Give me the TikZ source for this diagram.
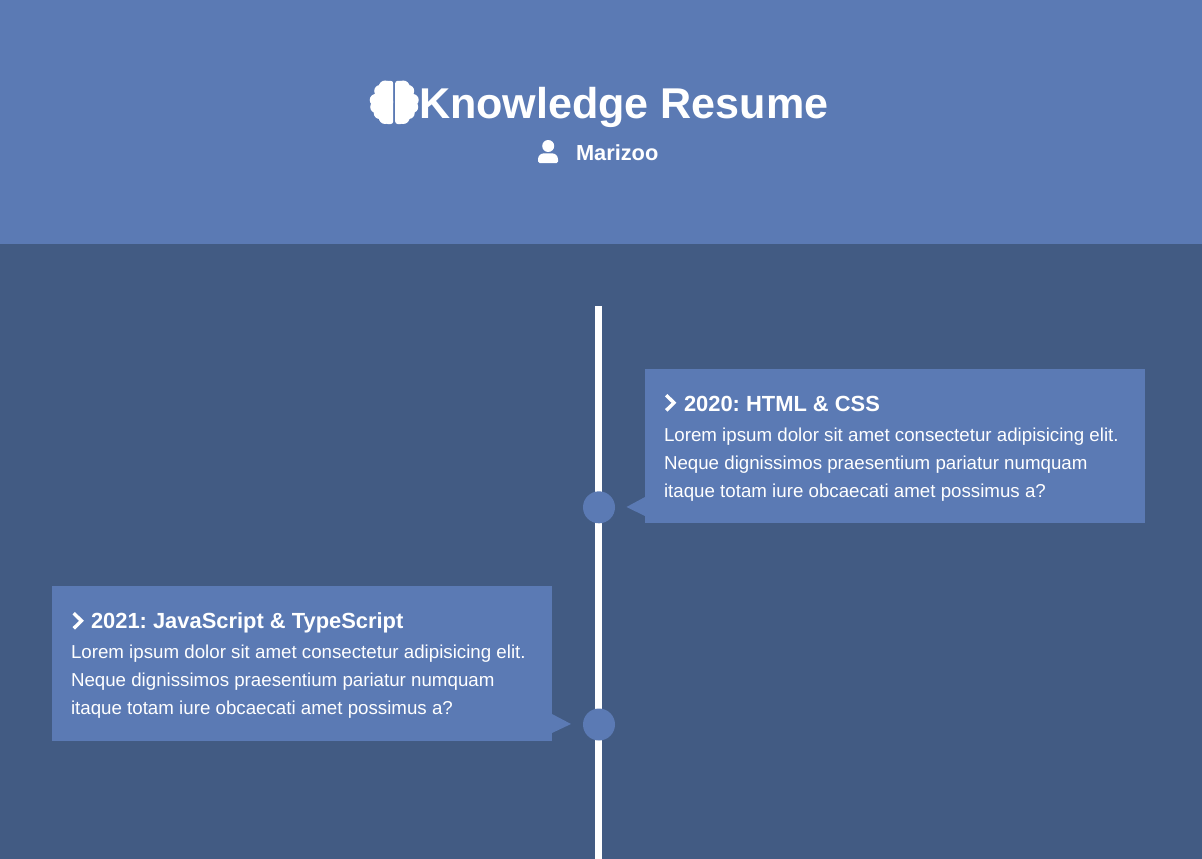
\documentclass[tikz,border=0pt]{standalone}
\usepackage{fontspec}
\setmainfont{Liberation Sans}
\usetikzlibrary{positioning}
\definecolor{myhead}{RGB}{91,122,180}
\definecolor{myback}{RGB}{66,91,131}
\frenchspacing
\begin{document}
\begin{tikzpicture}[x=1pt,y=-1pt,
    every node/.style={text=white,inner sep=0pt,outer sep=0pt,anchor=base west},
    boxnode/.style={fill=myhead,draw=none,anchor=north west,minimum width=500pt},
    dotnode/.style={circle,fill=myhead,anchor=center,minimum size=32pt},
    titlenode/.style={font=\fontsize{43.1}{43.1}\selectfont\bfseries},
    authornode/.style={font=\fontsize{21.8}{21.8}\selectfont\bfseries},
    headnode/.style={font=\fontsize{21.9}{21.9}\selectfont\bfseries},
    textnode/.style={font=\fontsize{18.72}{18.72}\selectfont},
    chevron/.style={draw=white,line width=3.4pt,miter limit=10}
  ]
  \useasboundingbox (0,0) rectangle (1202,859);
  \fill[myback] (0,0) rectangle (1202,859);
  \fill[myhead] (0,0) rectangle (1202,244);

  % the header
  \node[titlenode] (title) at (419,118) {Knowledge Resume};
  \node[authornode] (author) at (576,160) {Marizoo};

  % the brain
  \foreach \dx/\cy/\r in {8/87/6.5,13/91/6,17.5/100/6,17/107/6,13.5/113/6,8/117.5/6.5,11/102/11}{
    \fill[white] (393.2-\dx,\cy) circle (\r);
    \fill[white] (395.2+\dx,\cy) circle (\r);
  }
  \fill[white,rounded corners=2.5pt] (385.2,80.8) rectangle (393.2,124);
  \fill[white,rounded corners=2.5pt] (395.2,80.8) rectangle (403.2,124);

  % the person
  \fill[white] (548.2,146) circle (6);
  \fill[white] (538,163) [rounded corners=6pt] -- (538,153.3) -- (558,153.3) [rounded corners=1.5pt] -- (558,163) -- cycle;

  % the time line
  \coordinate (linetop) at (598.5,306);
  \coordinate (linebot) at (598.5,859);
  \draw[white,line width=7pt] (linetop) -- (linebot);

  % the entry of 2020
  \node[boxnode,minimum height=154pt] (box1) at (645,369) {};
  \fill[myhead] (box1.west |- 0,497) -- (626.5,507) -- (box1.west |- 0,516) -- cycle;
  \node[dotnode] (dot1) at (599,507.3) {};
  \draw[chevron] (666.2,395.2) -- (674,402.8) -- (666.2,410.4);
  \node[headnode] (head1) at (684,411) {2020: HTML \& CSS};

  % the entry of 2021
  \node[boxnode,minimum height=155pt] (box2) at (52,586) {};
  \fill[myhead] (box2.east |- 0,714) -- (571,724) -- (box2.east |- 0,733) -- cycle;
  \node[dotnode] (dot2) at (599,724.5) {};
  \draw[chevron] (73.7,613.2) -- (81.5,620.8) -- (73.7,628.4);
  \node[headnode] (head2) at (91,628.5) {2021: JavaScript \& TypeScript};

  % the text of both entries
  \foreach \n/\tx/\ty in {1/664/441,2/71/658}{
    \node[textnode] (a\n) at (\tx,\ty) {Lorem ipsum dolor sit amet consectetur adipisicing elit.};
    \node[textnode] (b\n) at (\tx,\ty+28) {Neque dignissimos praesentium pariatur numquam};
    \node[textnode] (c\n) at (\tx,\ty+56) {itaque totam iure obcaecati amet possimus a?};
  }
\end{tikzpicture}
\end{document}
